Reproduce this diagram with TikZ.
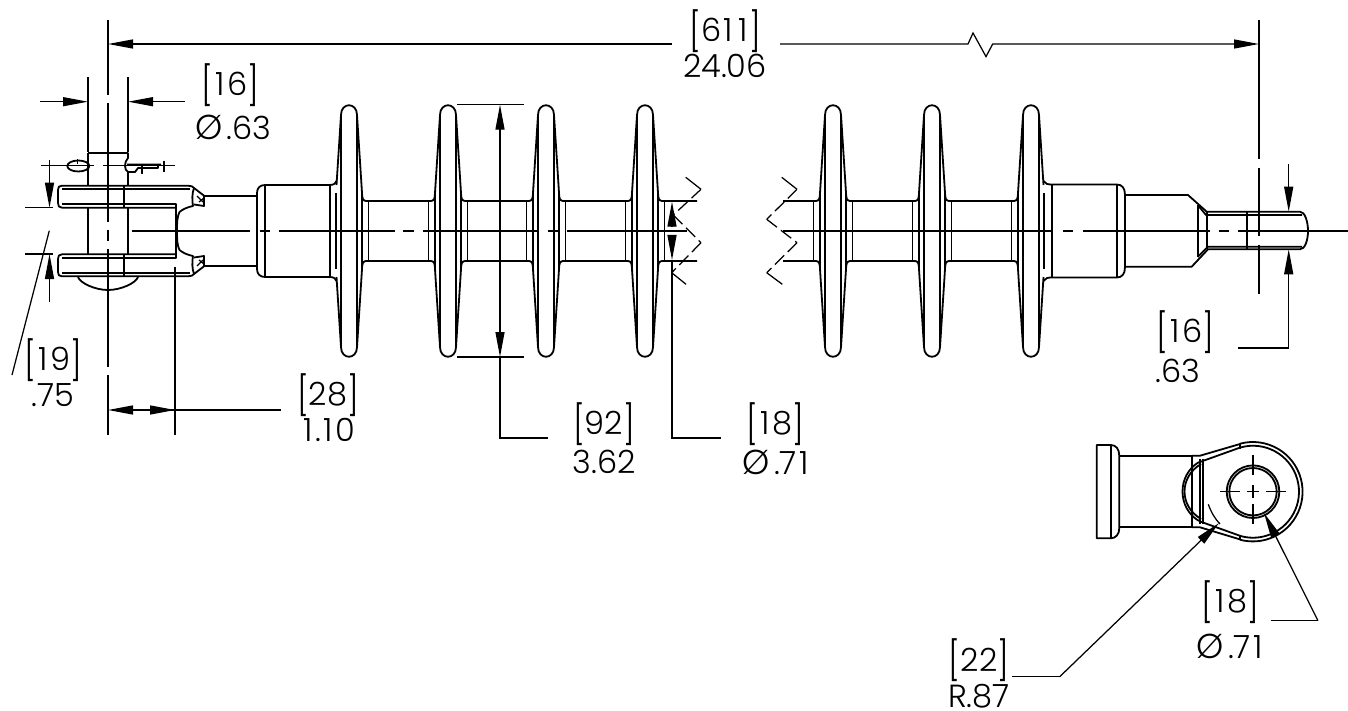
\documentclass[tikz,border=0pt]{standalone}
\usepackage{fontspec}
\setmainfont{Poppins}[UprightFont=* Light]
\usetikzlibrary{arrows.meta}
\tikzset{
    part/.style={line width=1.8pt, line join=round},
    thinline/.style={line width=1.25pt},
    breakline/.style={line width=1.25pt, dash pattern=on 13pt off 5pt},
    dimarrow/.style={line width=1.25pt, -{Triangle[length=25pt,width=9pt]}},
    dimtext/.style={inner sep=0pt, font=\fontsize{32}{36}\selectfont},
}
\newcommand{\lbrk}{\raisebox{-3.5pt}{\scalebox{1}[1.2]{[}}}
\newcommand{\rbrk}{\raisebox{-3.5pt}{\scalebox{1}[1.2]{]}}}
\newcommand{\dia}{\scalebox{1.08}{Ø}\kern4pt}
\newcommand{\one}{\kern2.5pt 1\kern2.5pt}
\begin{document}
\begin{tikzpicture}[x=1pt, y=-1pt]
\useasboundingbox (0,0) rectangle (1348,711);

% center lines
\foreach \ya/\yb in {20/95, 103/222, 230/240.7, 249.3/366.7, 375/435}
    \draw[thinline] (108,\ya) -- (108,\yb);
\foreach \ya/\yb in {20/159, 167.7/236, 245/294}
    \draw[thinline] (1259,\ya) -- (1259,\yb);
\foreach \xa/\xb in {132/250, 260/270, 279/395, 403/414, 423/538, 548/558, 567/687, 783/1053, 1063/1073, 1083/1210, 1219/1229, 1238/1348}
    \draw[thinline] (\xa,231) -- (\xb,231);

% insulator, both halves
\foreach \s in {1,-1}{
\begin{scope}[shift={(0,231)}, yscale=\s]
    \foreach \finx in {349,448,546,645,833,932,1031}
        \draw[part, shift={(\finx,0)}] (-12.5,-46) -- (-8,-116) .. controls (-8,-129) and (8,-129) .. (8,-116) -- (12.5,-46);
    \foreach \a/\b in {349/448,448/546,546/645,833/932,932/1031}
        \draw[part] ({\a+12.5},-46) -- ({\a+13},-38) .. controls ({\a+13},-33) and ({\a+14},-30) .. ({\a+17},-30) -- ({\b-17},-30) .. controls ({\b-14},-30) and ({\b-13},-33) .. ({\b-13},-38) -- ({\b-12.5},-46);
    \draw[part] (657.5,-46) -- (658,-38) .. controls (658,-33) and (659,-30) .. (662,-30) -- (697,-30);
    \draw[part] (783,-30) -- (816,-30) .. controls (819,-30) and (820,-33) .. (820,-38) -- (820.5,-46);
    % end fittings
    \draw[part] (257,-35.3) -- (257,-38) .. controls (257,-43) and (260,-46) .. (265,-46) -- (330,-46) .. controls (334,-46) and (336,-48) .. (336.5,-50);
    \draw[part] (1043.5,-50) .. controls (1045,-47) and (1048,-46.5) .. (1052,-46.5) -- (1116.7,-46.5) .. controls (1122,-46.5) and (1125,-43) .. (1125,-36);
    % clevis
    \draw[part] (204,-35.3) -- (257,-35.3);
    \draw[part] (176,0) -- (176,-27) -- (62,-27);
    \draw[part] (176,-23.3) -- (62,-23.3) .. controls (59,-23.3) and (58,-25) .. (58,-28) -- (58,-41) .. controls (58,-44) and (59,-45.3) .. (62,-45.3) -- (188,-45.3) .. controls (191,-45.3) and (193,-44.5) .. (194,-43) -- (204,-35.3) -- (204,-25) -- (194,-26.5);
    \draw[part] (62,-41.7) -- (190,-41.7);
    \draw[part] (194,-43) .. controls (192,-38) and (192,-30) .. (193,-25) .. controls (188,-24) and (183,-22) .. (179.5,-19) .. controls (177,-14) and (177,-8) .. (177,0);
    \draw[thinline] (197,-35) -- (203,-29) (199,-29) -- (204,-33);
    \draw[part] (124,-45.3) -- (124,-23.3);
    % pin shank
    \draw[part] (88,-23.3) -- (88,0) (128,-23.3) -- (128,0);
\end{scope}
}
\foreach \finx in {349,448,546,645,833,932,1031}
    \draw[part] (\finx-8,115) -- (\finx-8,347) (\finx+8,115) -- (\finx+8,347);
\foreach \finx in {349,448,546,645,833,932,1031}
    \draw[thinline] (\finx-13,193) -- (\finx-13,269) (\finx+13,193) -- (\finx+13,269);
\foreach \finx in {448,546,645,833,932,1031}
    \draw[part] (\finx-19.5,201) -- (\finx-19.5,261);
\foreach \finx in {349,448,546,645,833,932}
    \draw[part] (\finx+19.5,201) -- (\finx+19.5,261);
\draw[part] (664.5,201) -- (664.5,261);
\draw[part] (257,195) -- (257,267) (265,185) -- (265,277) (330,185) -- (330,277);
\draw[part] (1052,184.5) -- (1052,277.5) (1116.7,184.5) -- (1116.7,277.5) (1125,195) -- (1125,267);

% pin and cotter
\draw[part, line width=2.2pt] (88,152.7) -- (128,152.7);
\draw[part] (88,152.7) -- (88,186);
\draw[part] (128,152.7) -- (128,158) .. controls (124,162) and (124,170) .. (128,172) -- (128,186);
\draw[part] (78,277) .. controls (80,283) and (95,290) .. (108,290) .. controls (121,290) and (136,283) .. (138,277);
\draw[thinline] (41,165.7) -- (94,165.7) (103,165.7) -- (175,165.7);
\draw[part] (78.3,166) ellipse (11 and 5.5);
\draw[thinline] (77.5,159) -- (77.5,164);
\draw[part] (127,164.5) -- (161,164.5) (128,172) -- (135,172) -- (138,168) -- (158,168) -- (158,164.5);
\draw[part] (142.3,164) -- (142.3,174) (164.3,160.7) -- (164.3,171.7);

% threaded end
\draw[part] (1125,195) -- (1188,195) -- (1206.7,211.7) -- (1300,211.7) .. controls (1305,211.7) and (1308,222) .. (1308,231) .. controls (1308,240) and (1305,249.3) .. (1300,249.3) -- (1208,249.3) -- (1191.7,266.7) -- (1125,266.7);
\draw[part] (1197.7,205) -- (1206,215) -- (1302,215) (1197.7,257) -- (1208,246.7) -- (1302,246.7);
\draw[part] (1197.7,205) -- (1197.7,257);
\draw[part] (1206.7,212) -- (1206.7,249) (1246.7,212) -- (1246.7,249);

% break lines
\draw[thinline] (685.7,177.3) -- (701,189.3);
\draw[breakline] (701,189.3) -- (673.3,215) (673.3,215) -- (701,242.7) (701,242.7) -- (671.7,272.7);
\draw[thinline] (671.7,272.7) -- (686,284.3);
\draw[thinline] (781.7,177.3) -- (797,189.3);
\draw[breakline] (797,189.3) -- (766.7,219.3) (766.7,219.3) -- (797,242.7) (797,242.7) -- (766.7,272.7);
\draw[thinline] (766.7,272.7) -- (782.3,284.3);

% end view
\draw[part] (1110.7,445) -- (1096.7,445) -- (1096.7,538.3) -- (1110.7,538.3) .. controls (1116,538.3) and (1119.3,534) .. (1119.3,528) -- (1119.3,456) .. controls (1119.3,449) and (1116,445) .. (1110.7,445) -- cycle;
\draw[part] (1110.7,445) -- (1110.7,538.3);
\draw[part] (1119.3,455.7) -- (1191.7,455.7) -- (1191.7,527.3) -- (1119.3,527.3);
\draw[part] (1191.7,455.7) -- (1200,455.7) -- (1240,444);
\draw[part] (1191.7,527.3) -- (1200,527.3) -- (1240,539.4);
\draw[part] (1240,443.7) -- (1240,449) (1240,534.5) -- (1240,539.7);
\draw[part] (1200.7,461.7) -- (1240,447.6);
\draw[part] (1200.7,521.7) -- (1240,535.8);
\draw[part] (1240,443.7) arc[start angle=-105, end angle=105, radius=49.7];
\draw[part] (1240,447.6) arc[start angle=-106.4, end angle=106.4, radius=46];
\draw[part] (1200,459) -- (1200,524) (1202.7,459) -- (1202.7,524);
\draw[part] (1199,462) .. controls (1177,475) and (1177,508) .. (1199,521);
\draw[part] (1201,464) .. controls (1179,477) and (1179,506) .. (1201,519);
\draw[part] (1253,491.7) circle (26.3) (1253,491.7) circle (23.7);
\foreach \xa/\xb in {1220/1240, 1247/1259, 1266/1286}
    \draw[thinline] (\xa,491.7) -- (\xb,491.7);
\foreach \ya/\yb in {455/475, 485/498, 504/524}
    \draw[thinline] (1253,\ya) -- (1253,\yb);
\draw[thinline] (1208.3,504.3) .. controls (1211,512) and (1215,519) .. (1220,524);

% dimension 611
\node[dimtext] (ovhigh) at (725.5,31) {\lbrk 6\one\one\rbrk};
\node[dimtext] (ovlow) at (725,66) {24.06};
\coordinate (ovleft) at (672,44);
\coordinate (ovright) at (780,44);
\draw[dimarrow] (ovleft) -- (108,44);
\draw[dimarrow] (ovright) -- (968,44) -- (973,33) -- (986,56.6) -- (992.7,44) -- (1259,44);

% dimension pin
\node[dimtext] (pinhigh) at (230,85) {\lbrk\one 6\rbrk};
\node[dimtext] (pinlow) at (233,127) {\dia.63};
\draw[dimarrow] (40,101.7) -- (88,101.7);
\draw[dimarrow] (185,101.7) -- (128,101.7);
\draw[thinline] (88,77) -- (88,152) (128,77) -- (128,152);

% dimension jaw
\node[dimtext] (jawhigh) at (53,360) {\lbrk\one 9\rbrk};
\node[dimtext] (jawlow) at (53,395) {.75};
\draw[dimarrow] (49.5,160) -- (49.5,207.7);
\draw[dimarrow] (49.5,301.7) -- (49.5,254);
\draw[thinline] (25,207.7) -- (53,207.7) (25,254) -- (53,254);
\draw[thinline] (49.3,230.7) -- (12,375);

% dimension clevis length
\node[dimtext] (lenhigh) at (328,395) {\lbrk 28\rbrk};
\node[dimtext] (lenlow) at (328,430) {\one.\one 0};
\draw[dimarrow] (133,410) -- (108,410);
\draw[thinline] (133,410) -- (281,410);
\draw[dimarrow] (150,410) -- (175,410);
\draw[thinline] (175,267) -- (175,435);

% dimension shed
\node[dimtext] (shedhigh) at (604,424) {\lbrk 92\rbrk};
\node[dimtext] (shedlow) at (604,462) {3.62};
\draw[thinline] (457,104.7) -- (524,104.7) (457,357) -- (524,357);
\draw[dimarrow] (500,231) -- (500,104.7);
\draw[dimarrow] (500,231) -- (500,357);
\draw[thinline] (500,357) -- (500,438) -- (548,438);

% dimension core
\node[dimtext] (corehigh) at (775,424) {\lbrk\one 8\rbrk};
\node[dimtext] (corelow) at (777,462) {\dia.7\one};
\draw[dimarrow] (672,226.7) -- (672,201.7);
\draw[dimarrow] (672,235.7) -- (672,260);
\draw[thinline] (672,260) -- (672,438) -- (721,438);

% dimension stud
\node[dimtext] (studhigh) at (1185,332) {\lbrk\one 6\rbrk};
\node[dimtext] (studlow) at (1178,371) {.63};
\draw[dimarrow] (1288.7,164) -- (1288.7,211.7);
\draw[dimarrow] (1288.7,348) -- (1288.7,249.3);
\draw[thinline] (1288.7,348) -- (1238,348);

% dimension eye
\node[dimtext] (eyehigh) at (1230,602) {\lbrk\one 8\rbrk};
\node[dimtext] (eyelow) at (1231,646.5) {\dia.7\one};
\coordinate (eyeknee) at (1318,620.7);
\draw[thinline] (1270.7,620.7) -- (eyeknee);
\draw[dimarrow] (eyeknee) -- (1264,513);

% dimension radius
\node[dimtext] (radhigh) at (979,660.5) {\lbrk 22\rbrk};
\node[dimtext] (radlow) at (979,696.5) {R.87};
\coordinate (radknee) at (1059.7,676.7);
\draw[thinline] (1011.7,676.7) -- (radknee);
\draw[dimarrow] (radknee) -- (1219,523);

\end{tikzpicture}
\end{document}
